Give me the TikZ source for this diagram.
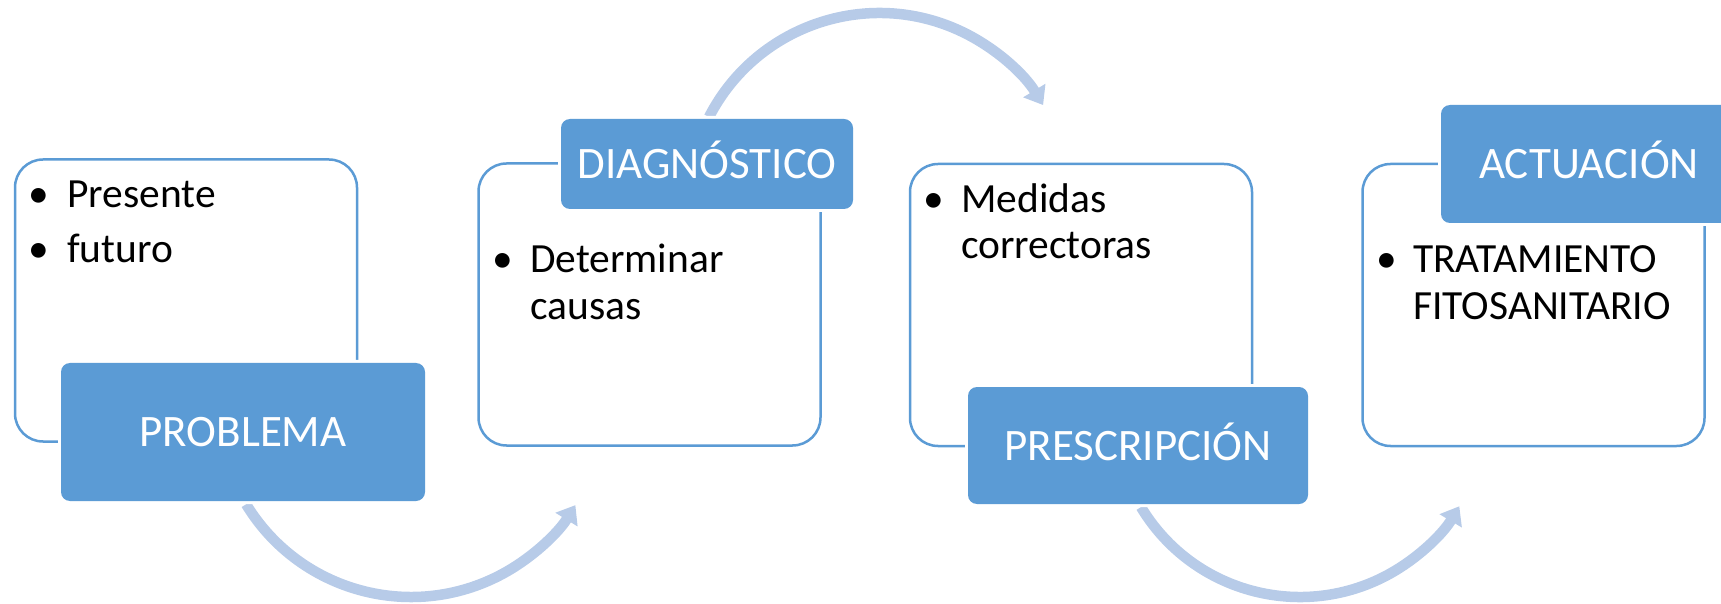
\documentclass[tikz,border=0pt]{standalone}
\usepackage{fontspec}
\setmainfont{Carlito}
\usetikzlibrary{arrows.meta}
\definecolor{accblue}{HTML}{5B9BD5}
\definecolor{arcblue}{RGB}{183,203,232}
\begin{document}
\begin{tikzpicture}[x=1pt,y=1pt,
  outerbox/.style={draw=accblue, line width=2.5pt, fill=white, rounded corners=28pt,
    minimum width=342pt, minimum height=282pt, inner sep=0pt},
  labelbox/.style={fill=accblue, preaction={draw=white, line width=6pt}, rounded corners=9pt,
    inner sep=0pt, text=white, font=\fontsize{45}{54}\selectfont, text height=29pt, text depth=0pt},
  itemtext/.style={anchor=base west, inner sep=0pt, font=\fontsize{41.5}{47}\selectfont},
  bul/.style={anchor=base, inner sep=0pt, font=\fontsize{41.5}{47}\selectfont},
  flow/.style={draw=arcblue, line width=10.5pt, -{Triangle[width=25pt,length=17pt]}}
]
\useasboundingbox (0,0) rectangle (1721,603);
\clip (0,0) rectangle (1721,603);

% circular arrows
\coordinate (c1) at (411,199);
\coordinate (c2) at (879.4,398.4);
\coordinate (c3) at (1299.9,191.4);
\draw[flow] ([shift={(211.3:193)}]c1) arc[start angle=211.3, end angle=328.4, radius=193];
\draw[flow] ([shift={(152.8:191.6)}]c2) arc[start angle=152.8, end angle=31.3, radius=191.6];
\draw[flow] ([shift={(211:185.4)}]c3) arc[start angle=211, end angle=329.3, radius=185.4];

% outlined boxes
\node[outerbox] (b1) at (186,302.5) {};
\node[outerbox] (b2) at (649.5,298.5) {};
\node[outerbox] (b3) at (1081,298) {};
\node[outerbox] (b4) at (1533.5,298) {};

% label boxes
\node[labelbox, minimum width=364pt, minimum height=138pt] (l1) at (243,171) {PROBLEMA};
\node[labelbox, minimum width=292pt, minimum height=90pt] (l2) at (707,439) {DIAGNÓSTICO};
\node[labelbox, minimum width=340pt, minimum height=117pt] (l3) at (1138,157.5) {PRESCRIPCIÓN};
\node[labelbox, minimum width=296pt, minimum height=118pt] (l4) at (1589,439) {ACTUACIÓN};

% bullet texts
\node[bul] (u1a) at (39,395) {•};
\node[itemtext] (t1a) at (67,395) {Presente};
\node[bul] (u1b) at (39,340) {•};
\node[itemtext] (t1b) at (67,340) {futuro};

\node[bul] (u2a) at (503,330) {•};
\node[itemtext] (t2a) at (530,330) {Determinar};
\node[itemtext] (t2b) at (530,283) {causas};

\node[bul] (u3a) at (934,390) {•};
\node[itemtext] (t3a) at (961,390) {Medidas};
\node[itemtext] (t3b) at (961,344) {correctoras};

\node[bul] (u4a) at (1387,330) {•};
\node[itemtext] (t4a) at (1413,330) {TRATAMIENTO};
\node[itemtext] (t4b) at (1413,283) {FITOSANITARIO};
\end{tikzpicture}
\end{document}
